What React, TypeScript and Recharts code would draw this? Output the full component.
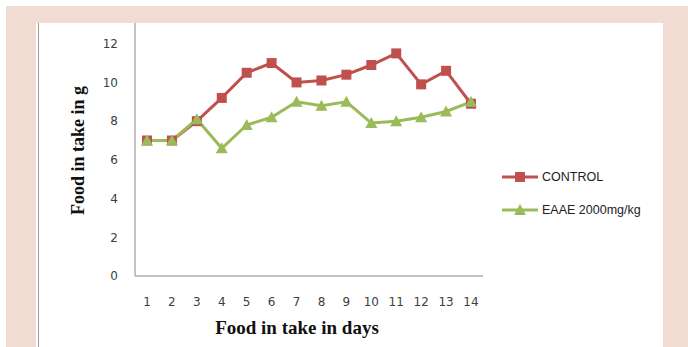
import { LineChart, Line, XAxis, YAxis, Legend, Label } from 'recharts';

const days = ['1', '2', '3', '4', '5', '6', '7', '8', '9', '10', '11', '12', '13', '14'];
const controlValues = [7, 7, 8, 9.2, 10.5, 11, 10, 10.1, 10.4, 10.9, 11.5, 9.9, 10.6, 8.9];
const eaaeValues = [7, 7, 8.1, 6.6, 7.8, 8.2, 9, 8.8, 9, 7.9, 8, 8.2, 8.5, 9];
const yTicks = [0, 2, 4, 6, 8, 10, 12];

const data = days.map((day, i) => ({
  day,
  control: controlValues[i],
  eaae: eaaeValues[i],
}));

const RED = '#c0504d';
const GREEN = '#9bbb59';

const SquareDot = (props: any) => {
  const { cx, cy } = props;
  if (cx == null || cy == null) return null;
  return <rect x={cx - 5} y={cy - 5} width={10} height={10} fill={RED} />;
};

const TriangleDot = (props: any) => {
  const { cx, cy } = props;
  if (cx == null || cy == null) return null;
  return <polygon points={`${cx},${cy - 6} ${cx + 6},${cy + 5} ${cx - 6},${cy + 5}`} fill={GREEN} />;
};

const renderLegend = () => {
  const items = [
    { label: 'CONTROL', color: RED, shape: 'square' },
    { label: 'EAAE 2000mg/kg', color: GREEN, shape: 'triangle' },
  ];
  return (
    <div>
      {items.map((it) => (
        <div key={it.label} style={{ display: 'flex', alignItems: 'center', height: 33 }}>
          <svg width={38} height={14}>
            <line x1={0} y1={7} x2={36} y2={7} stroke={it.color} strokeWidth={3} />
            {it.shape === 'square' ? (
              <rect x={13} y={2} width={10} height={10} fill={it.color} />
            ) : (
              <polygon points="18,1 24,12 12,12" fill={it.color} />
            )}
          </svg>
          <span style={{ fontFamily: 'Liberation Sans, Arial, sans-serif', fontSize: 12.5, color: '#222', marginLeft: 2 }}>
            {it.label}
          </span>
        </div>
      ))}
    </div>
  );
};

const titleStyle = { fontFamily: 'Liberation Serif, Times New Roman, serif', fontWeight: 'bold', fill: '#111' };

const YTitle = (props: any) => {
  const vb = props.viewBox;
  const x = vb.x + 42;
  const y = vb.y + vb.height / 2 + 10;
  return (
    <text
      x={x}
      y={y}
      transform={`rotate(-90, ${x}, ${y})`}
      textAnchor="middle"
      dominantBaseline="central"
      style={{ ...titleStyle, fontSize: 18 }}
    >
      Food in take in g
    </text>
  );
};

const XTitle = (props: any) => {
  const vb = props.viewBox;
  return (
    <text
      x={vb.x + vb.width / 2 - 12}
      y={vb.y + 51}
      textAnchor="middle"
      dominantBaseline="central"
      style={{ ...titleStyle, fontSize: 19 }}
    >
      Food in take in days
    </text>
  );
};

const tickStyle = { fontFamily: 'DejaVu Sans, sans-serif', fontSize: 12, fill: '#404040' };

export default function App() {
  return (
    <div style={{ position: 'absolute', left: 0, top: 0, width: 688, height: 347, background: '#fff', overflow: 'hidden' }}>
      <div style={{ position: 'absolute', left: 6, top: 6, width: 682, height: 341, background: '#f1dcd4' }} />
      <div style={{ position: 'absolute', left: 36, top: 23, width: 627, height: 324, background: '#fff', overflow: 'hidden' }}>
        <div style={{ position: 'absolute', left: 2, top: 0, width: 1, height: 324, background: '#9a9a9a' }} />
        <div style={{ position: 'absolute', left: 0, top: -28 }}>
          <LineChart width={627} height={352} data={data} margin={{ top: 10, right: 180, left: 0, bottom: 0 }}>
            <XAxis
              dataKey="day"
              height={71}
              padding={{ left: 12, right: 12 }}
              axisLine={{ stroke: '#888' }}
              tickLine={false}
              tickSize={0}
              tickMargin={21}
              tick={tickStyle}
              interval={0}
            >
              <Label content={XTitle} />
            </XAxis>
            <YAxis
              type="number"
              domain={[0, 14]}
              ticks={yTicks}
              width={99}
              axisLine={{ stroke: '#888' }}
              tickLine={false}
              tickSize={0}
              tickMargin={17}
              tick={tickStyle}
            >
              <Label content={YTitle} />
            </YAxis>
            <Legend
              layout="vertical"
              align="center"
              verticalAlign="middle"
              content={renderLegend}
              wrapperStyle={{ left: 466, top: 165, width: 160 }}
            />
            <Line
              type="linear"
              dataKey="control"
              name="CONTROL"
              stroke={RED}
              strokeWidth={3}
              dot={<SquareDot />}
              activeDot={false}
              isAnimationActive={false}
            />
            <Line
              type="linear"
              dataKey="eaae"
              name="EAAE 2000mg/kg"
              stroke={GREEN}
              strokeWidth={3}
              dot={<TriangleDot />}
              activeDot={false}
              isAnimationActive={false}
            />
          </LineChart>
        </div>
      </div>
    </div>
  );
}
